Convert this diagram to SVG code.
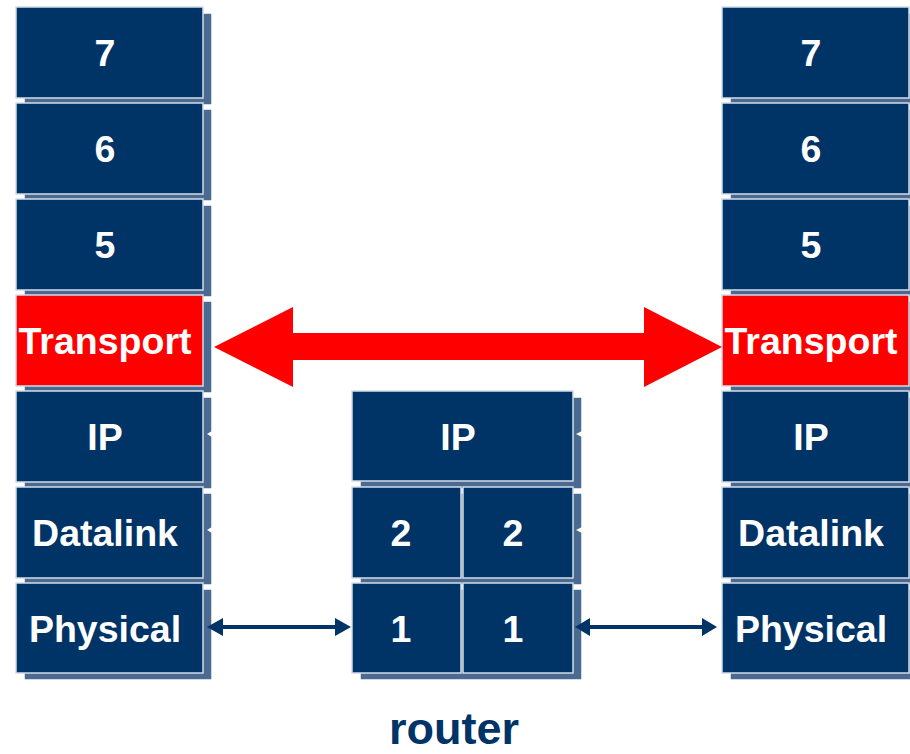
<svg xmlns="http://www.w3.org/2000/svg" width="910" height="754" viewBox="0 0 910 754">
<style>
.sh{fill:#4a6a91;stroke:#ffffff;stroke-width:1.5}
.bx{fill:#003366;stroke:#d4dde9;stroke-width:1.5}
.rd{fill:#ff0000;stroke:#d4dde9;stroke-width:1.5}
.t{font-family:"Liberation Sans",Arial,sans-serif;font-weight:bold;font-size:37.5px;fill:#ffffff;text-anchor:middle}
.lbl{font-family:"Liberation Sans",Arial,sans-serif;font-weight:bold;font-size:45px;fill:#003366;text-anchor:middle}
</style>
<rect width="910" height="754" fill="#ffffff"/>
<g id="left-stack">
  <g id="L7"><rect class="sh" x="24" y="13" width="188" height="92"/><rect class="bx" x="16" y="7" width="187" height="91"/><text class="t" x="105" y="66">7</text></g>
  <g id="L6"><rect class="sh" x="24" y="109" width="188" height="92"/><rect class="bx" x="16" y="103" width="187" height="91"/><text class="t" x="105" y="162">6</text></g>
  <g id="L5"><rect class="sh" x="24" y="205" width="188" height="92"/><rect class="bx" x="16" y="199" width="187" height="91"/><text class="t" x="105" y="258">5</text></g>
  <g id="LTransport"><rect class="sh" x="24" y="301" width="188" height="92"/><rect class="rd" x="16" y="295" width="187" height="91"/><text class="t" x="105" y="354">Transport</text></g>
  <g id="LIP"><rect class="sh" x="24" y="397" width="188" height="92"/><rect class="bx" x="16" y="391" width="187" height="91"/><text class="t" x="105" y="450">IP</text></g>
  <g id="LDatalink"><rect class="sh" x="24" y="493" width="188" height="92"/><rect class="bx" x="16" y="487" width="187" height="91"/><text class="t" x="105" y="546">Datalink</text></g>
  <g id="LPhysical"><rect class="sh" x="24" y="589" width="188" height="91"/><rect class="bx" x="16" y="583" width="187" height="90"/><text class="t" x="105" y="642">Physical</text></g>
</g>
<g id="right-stack">
  <g id="R7"><rect class="sh" x="730" y="13" width="188" height="92"/><rect class="bx" x="722" y="7" width="187" height="91"/><text class="t" x="811" y="66">7</text></g>
  <g id="R6"><rect class="sh" x="730" y="109" width="188" height="92"/><rect class="bx" x="722" y="103" width="187" height="91"/><text class="t" x="811" y="162">6</text></g>
  <g id="R5"><rect class="sh" x="730" y="205" width="188" height="92"/><rect class="bx" x="722" y="199" width="187" height="91"/><text class="t" x="811" y="258">5</text></g>
  <g id="RTransport"><rect class="sh" x="730" y="301" width="188" height="92"/><rect class="rd" x="722" y="295" width="187" height="91"/><text class="t" x="811" y="354">Transport</text></g>
  <g id="RIP"><rect class="sh" x="730" y="397" width="188" height="92"/><rect class="bx" x="722" y="391" width="187" height="91"/><text class="t" x="811" y="450">IP</text></g>
  <g id="RDatalink"><rect class="sh" x="730" y="493" width="188" height="92"/><rect class="bx" x="722" y="487" width="187" height="91"/><text class="t" x="811" y="546">Datalink</text></g>
  <g id="RPhysical"><rect class="sh" x="730" y="589" width="188" height="91"/><rect class="bx" x="722" y="583" width="187" height="90"/><text class="t" x="811" y="642">Physical</text></g>
</g>
<g id="router">
  <g id="router-IP"><rect class="sh" x="360" y="397" width="222" height="92"/><rect class="bx" x="352" y="391" width="221" height="90"/><text class="t" x="458" y="450">IP</text></g>
  <g id="router-2a"><rect class="sh" x="360" y="493" width="222" height="92"/><rect class="bx" x="352" y="487" width="109" height="91"/><text class="t" x="401" y="546">2</text></g>
  <g id="router-2b"><rect class="bx" x="463" y="487" width="110" height="91"/><text class="t" x="513" y="546">2</text></g>
  <g id="router-1a"><rect class="sh" x="360" y="589" width="222" height="91"/><rect class="bx" x="352" y="583" width="109" height="90"/><text class="t" x="401" y="642">1</text></g>
  <g id="router-1b"><rect class="bx" x="463" y="583" width="110" height="90"/><text class="t" x="513" y="642">1</text></g>
  <text class="lbl" x="454" y="744">router</text>
</g>
<g id="connectors">
  <polygon fill="#ff0000" points="214,347 293,307 293,333 644,333 644,307 722,347 644,387 644,360 293,360 293,387"/>
  <polygon fill="#003366" points="207,627 223,618 223,625 335,625 335,618 351,627 335,636 335,629 223,629 223,636"/>
  <polygon fill="#003366" points="575,627 590,618 590,625 702,625 702,618 717,627 702,636 702,629 590,629 590,636"/>
  <polygon fill="#ffffff" points="207,434 212,431 212,437"/>
  <polygon fill="#ffffff" points="207,530 212,527 212,533"/>
  <polygon fill="#ffffff" points="576,434 582,431 582,437"/>
  <polygon fill="#ffffff" points="576,530 582,527 582,533"/>
</g>
</svg>
